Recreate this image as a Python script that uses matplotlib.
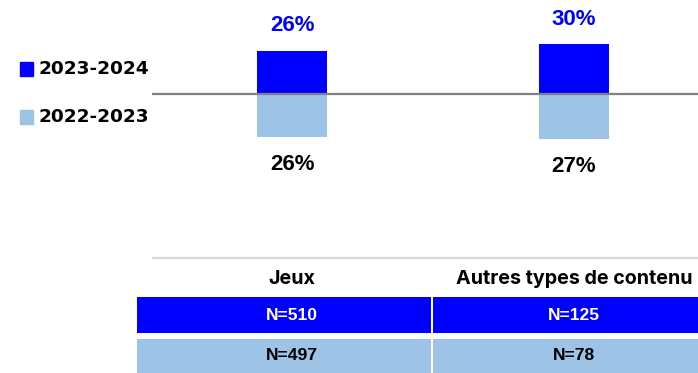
import matplotlib.pyplot as plt
from matplotlib.patches import Rectangle

# ---- données ----
categories = ["Jeux", "Autres types de contenu"]
series = ["2023-2024", "2022-2023"]
values_2024 = [26, 30]
values_2023 = [26, 27]
n_2024 = [510, 125]
n_2023 = [497, 78]

BLUE = "#0000FF"
LIGHT = "#9DC3E6"
GRAY = "#808080"

W, H = 698, 373
fig = plt.figure(figsize=(W / 100, H / 100), dpi=100)


def fx(px):
    return px / W


def fy(px):
    return 1 - px / H


# ---- graphique en barres (haut / bas) ----
ax = fig.add_axes([fx(152), fy(200), fx(546), 200 / H])
ax.set_xlim(-0.4965, 1.4397)
ax.set_ylim(-63.9, 56.6)
ax.axis("off")

x = list(range(len(categories)))
bw = 0.248
ax.bar(x, values_2024, width=bw, color=BLUE, zorder=2)
ax.bar(x, [-v for v in values_2023], width=bw, color=LIGHT, zorder=2)
ax.axhline(0, color=GRAY, lw=1.6, zorder=3)

for i, v in enumerate(values_2024):
    ax.annotate(f"{v}%", (i, v), xytext=(0, 18), textcoords="offset points",
                ha="center", va="center", color=BLUE,
                fontfamily="Liberation Sans", fontweight="bold", fontsize=16)
for i, v in enumerate(values_2023):
    ax.annotate(f"{v}%", (i, -v), xytext=(0, -19.8), textcoords="offset points",
                ha="center", va="center", color="black",
                fontfamily="Liberation Sans", fontweight="bold", fontsize=16)

# ---- légende ----
for k, (name, col) in enumerate(zip(series, [BLUE, LIGHT])):
    yc = 69 + 48 * k
    fig.patches.append(Rectangle((fx(20), fy(yc + 7)), fx(13), 14 / H,
                                 color=col, transform=fig.transFigure))
    fig.text(fx(39), fy(yc), name, ha="left", va="center",
             fontfamily="DejaVu Sans", fontweight="bold", fontsize=13.3)

# ---- tableau des effectifs ----
tx = fig.add_axes([fx(137), 0, fx(561), 118 / H])
tx.set_xlim(-0.5496, 1.4397)
tx.set_ylim(118, 0)
tx.axis("off")

tx.plot([-0.4965, 1.4397], [3, 3], color="#D9D9D9", lw=1.6,
        solid_capstyle="butt")
edges = [-0.5496, 0.4965, 1.4397]
rows = [(n_2024, BLUE, "white", 42, 78), (n_2023, LIGHT, "black", 84, 125)]
for i, cat in enumerate(categories):
    tx.text(i, 24, cat, ha="center", va="center", fontfamily="Inter",
            fontweight="bold", fontsize=14.2, color="black")
    for ns, bg, fg, y0, y1 in rows:
        left = edges[i] + (0.004 if i > 0 else 0)
        right = edges[i + 1] - (0.004 if i == 0 else 0)
        tx.add_patch(Rectangle((left, y0), right - left, y1 - y0,
                               facecolor=bg, edgecolor="none"))
        tx.text(i, (y0 + min(y1, 118)) / 2, f"N={ns[i]}",
                ha="center", va="center", color=fg,
                fontfamily="Liberation Sans", fontweight="bold", fontsize=12.6)

fig.savefig("out.png", dpi=100)
